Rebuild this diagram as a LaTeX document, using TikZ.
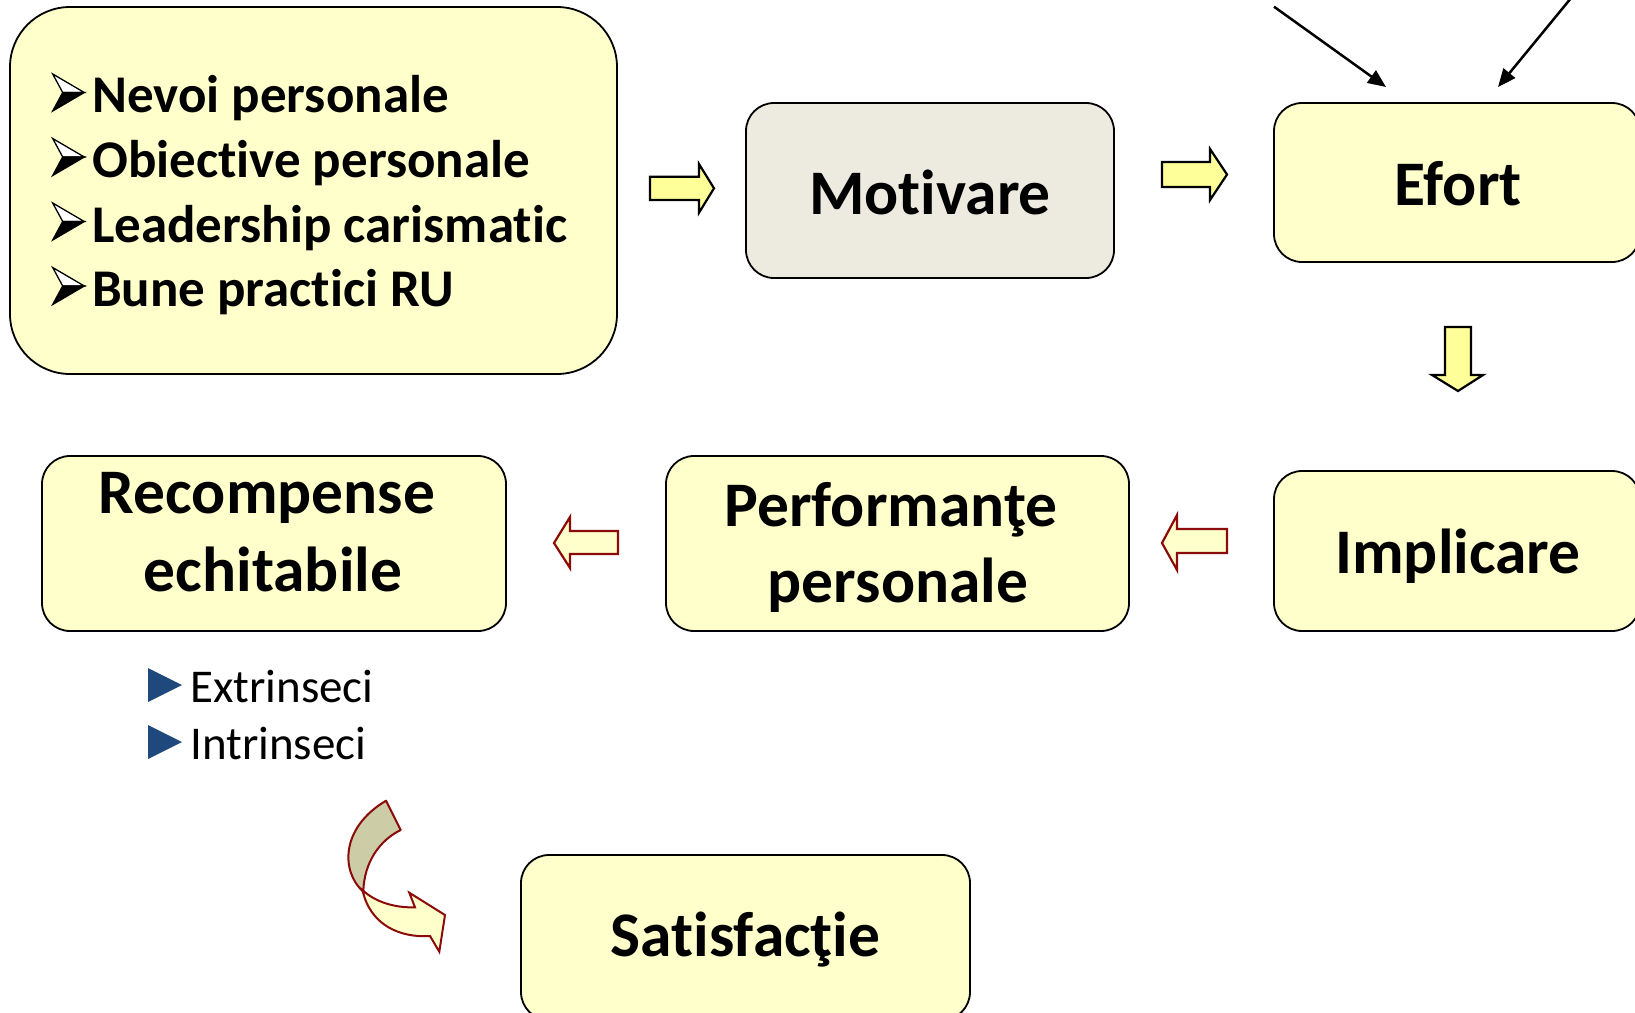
\documentclass[tikz,border=0pt]{standalone}
\usepackage{fontspec}
\setmainfont{Carlito}[Ligatures={NoCommon,NoRequired,NoContextual}]
\usetikzlibrary{arrows.meta}
\definecolor{boxfill}{HTML}{FFFFCC}
\definecolor{motfill}{HTML}{EDEBE0}
\definecolor{arrfill}{HTML}{FFFF99}
\definecolor{darkred}{HTML}{8B0A0A}
\definecolor{curvegray}{HTML}{CCCCA6}
\definecolor{tri}{HTML}{1F497D}
\newcommand{\arrbullet}[1]{%
  \filldraw[draw=black,fill=white,line width=1.3pt,line join=miter]
    (52.7,#1-37) -- (84.3,#1-18.5) -- (62.7,#1-18.5) -- cycle;
  \filldraw[draw=black,fill=black,line width=1.3pt,line join=miter]
    (62.7,#1-18.5) -- (84.3,#1-18.5) -- (52.7,#1) -- cycle;}
\begin{document}
\begin{tikzpicture}[x=1pt,y=-1pt,
 box/.style={draw=black,line width=1.8pt,fill=boxfill,rounded corners=28pt,inner sep=0pt},
 big/.style={font=\fontsize{63.5}{76}\selectfont\bfseries,anchor=base,inner sep=0pt},
 item/.style={font=\fontsize{53}{64}\selectfont\bfseries,anchor=base west,inner sep=0pt},
 sub/.style={font=\fontsize{47}{56}\selectfont,anchor=base west,inner sep=0pt},
 yarrow/.style={draw=black,line width=2.2pt,fill=arrfill,line join=miter},
 rarrow/.style={draw=darkred,line width=2.2pt,fill=boxfill,line join=miter},
 thin/.style={draw=black,line width=2.5pt,-{Triangle[length=18pt,width=15pt]}}
 ]
\useasboundingbox (0,0) rectangle (1635,1012);
\clip (0,0) rectangle (1635,1012);
\fill[white] (0,0) rectangle (1635,1012);

% boxes
\node[box,rounded corners=60pt,minimum width=607pt,minimum height=367pt] (src) at (313.5,190.5) {};
\node[box,fill=motfill,minimum width=368pt,minimum height=175pt] (mot) at (930,190.5) {};
\node[box,minimum width=366pt,minimum height=159pt] (ef) at (1457,182.5) {};
\node[box,minimum width=366pt,minimum height=160pt] (imp) at (1457,551) {};
\node[box,minimum width=463pt,minimum height=175pt] (perf) at (897.5,543.5) {};
\node[box,minimum width=464pt,minimum height=175pt] (rec) at (274,543.5) {};
\node[box,minimum width=449pt,minimum height=165pt] (sat) at (745.5,937.5) {};

% list in the source box
\arrbullet{111}
\arrbullet{175.5}
\arrbullet{240}
\arrbullet{304.5}
\node[item] (i1) at (92,112.6) {Nevoi personale};
\node[item] (i2) at (92,177) {Obiective personale};
\node[item] (i3) at (92,242) {Leadership carismatic};
\node[item] (i4) at (92,306.6) {Bune practici RU};

% box texts
\node[big] (motT) at (930,214) {Motivare};
\node[big] (efT) at (1458,205.5) {Efort};
\node[big] (impT) at (1458,573.5) {Implicare};
\node[big] (perfT1) at (891,526.6) {Performanţe};
\node[big] (perfT2) at (898,602.7) {personale};
\node[big] (recT1) at (267,513) {Recompense};
\node[big] (recT2) at (273,591) {echitabile};
\node[big] (satT) at (745.5,956) {Satisfacţie};

% sub list
\fill[tri] (148,668) -- (182,685) -- (148,702) -- cycle;
\fill[tri] (148,725) -- (182,742) -- (148,759) -- cycle;
\node[sub] (ex) at (190,702) {Extrinseci};
\node[sub] (in) at (190,759) {Intrinseci};

% block arrows
\draw[yarrow] (650,176.7) -- (699,176.7) -- (699,164) -- (714,188.3) -- (699,212.7) -- (699,200) -- (650,200) -- cycle;
\draw[yarrow] (1162,162) -- (1210,162) -- (1210,149) -- (1227,174.5) -- (1210,200) -- (1210,187) -- (1162,187) -- cycle;
\draw[yarrow] (1445,327) -- (1471,327) -- (1471,375) -- (1483,375) -- (1458,391) -- (1432,375) -- (1445,375) -- cycle;
\draw[rarrow] (618,531) -- (570,531) -- (570,517) -- (554,543) -- (570,568) -- (570,554) -- (618,554) -- cycle;
\draw[rarrow] (1227,529) -- (1177,529) -- (1177,515) -- (1162,543) -- (1177,570) -- (1177,553) -- (1227,553) -- cycle;

% diagonal arrows into Efort
\coordinate (d1s) at (1274,6.7);
\coordinate (d1e) at (1386,87);
\coordinate (d2s) at (1576,-8);
\coordinate (d2e) at (1498,87);
\draw[thin] (d1s) -- (d1e);
\draw[thin] (d2s) -- (d2e);

% curved arrow
\draw[draw=darkred,line width=2pt,fill=curvegray,line join=round]
  (386,800.7) -- (400.7,830) .. controls (380,840) and (364,862) .. (363.3,891.7)
  .. controls (341,872) and (340,828) .. (386,800.7) -- cycle;
\draw[draw=darkred,line width=2pt,fill=boxfill,line join=miter]
  (362.5,890) .. controls (375,902) and (395,908) .. (415,907.3) -- (409.3,892.7)
  -- (445,915) -- (439.3,951.7) -- (430,936)
  .. controls (400,938) and (370,925) .. (362.5,890) -- cycle;
\end{tikzpicture}
\end{document}
